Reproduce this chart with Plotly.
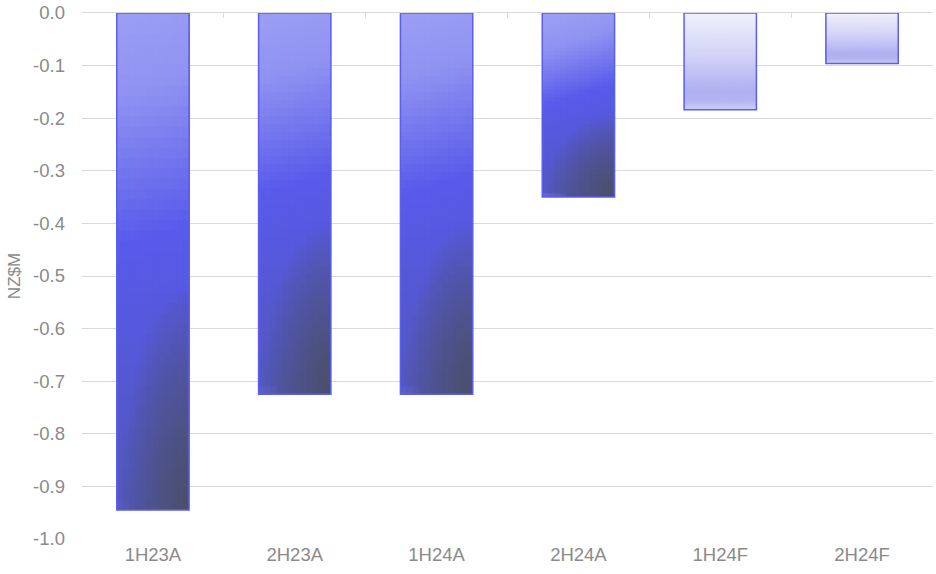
import numpy as np
import plotly.graph_objects as go

categories = ["1H23A", "2H23A", "1H24A", "2H24A", "1H24F", "2H24F"]
values = [-0.945, -0.725, -0.725, -0.35, -0.184, -0.096]
y_title = "NZ$M"
y_ticks = [0.0, -0.1, -0.2, -0.3, -0.4, -0.5, -0.6, -0.7, -0.8, -0.9, -1.0]

N_ROWS = 48
N_COLS = 12
BAR_W = 0.51
PLOT_H_PX = 526.0


def lerp(stops, t):
    pos = [s[0] for s in stops]
    cols = np.array([s[1] for s in stops], dtype=float)
    return np.array([np.interp(t, pos, cols[:, i]) for i in range(3)])


def actual_color(u, v, h_px):
    # slightly tilted linear gradient (higher on the right)
    s = v + (22.0 / h_px) * (u - 0.5)
    base = lerp([(0.0, (154, 157, 243)), (0.15, (143, 146, 241)),
                 (0.45, (88, 91, 234)), (0.6, (86, 89, 222)), (1.0, (82, 87, 185))], s)
    # darkening from bottom-right corner
    d = np.sqrt(((1 - u) / 0.95) ** 2 + ((1 - v) / 0.45) ** 2)
    t = np.clip(1 - d, 0, 1) ** 0.8
    dark = np.array([74, 79, 104])
    c = base * (1 - t) + dark * t
    # small highlight in the bottom-left corner
    dl = np.sqrt((u / 0.4) ** 2 + ((1 - v) * h_px / 6.0) ** 2)
    hgl = np.clip(1 - dl, 0, 1) * 0.6
    c = c * (1 - hgl) + np.array([120, 123, 246]) * hgl
    return c


def forecast_color(u, v, h_px):
    return lerp([(0.0, (240, 240, 253)), (0.45, (210, 210, 247)),
                 (0.8, (175, 176, 241)), (0.9, (178, 179, 241)), (1.0, (205, 205, 246))], v)


def rgb(c):
    return "rgb(%d,%d,%d)" % tuple(int(round(x)) for x in c)


is_forecast = [c.endswith("F") for c in categories]
vals = np.array(values)
heights_px = np.abs(vals) * PLOT_H_PX

fig = go.Figure()
cells = [(k, j) for k in range(N_ROWS) for j in range(N_COLS)]
cells.sort(key=lambda kj: -(kj[0] + kj[1]))
for k, j in cells:
    v = (k + 0.5) / N_ROWS
    u = (j + 0.5) / N_COLS
    colors = [rgb(forecast_color(u, v, h) if f else actual_color(u, v, h))
              for f, h in zip(is_forecast, heights_px)]
    fig.add_trace(go.Bar(
        x=categories,
        y=vals * (k + 1) / N_ROWS,
        base=0,
        width=BAR_W * (j + 1) / N_COLS,
        offset=-BAR_W / 2,
        marker=dict(color=colors, line=dict(width=0)),
        hoverinfo="skip",
        showlegend=False,
    ))

fig.add_trace(go.Bar(
    x=categories,
    y=values,
    width=BAR_W,
    marker=dict(color="rgba(0,0,0,0)", line=dict(color="#5b5ef0", width=1.5)),
    showlegend=False,
))

# top axis with category boundary ticks
fig.add_trace(go.Scatter(x=[0], y=[0], xaxis="x2", mode="markers",
                         marker=dict(opacity=0), hoverinfo="skip", showlegend=False))

grey = "#8a8a8a"
fig.update_layout(
    width=936, height=574,
    margin=dict(l=82, r=3, t=13, b=35),
    paper_bgcolor="white", plot_bgcolor="white",
    barmode="overlay",
    font=dict(family="Liberation Sans, Arial, sans-serif", color=grey, size=18),
    xaxis=dict(type="category", range=[-0.5, 5.5], showgrid=False, showline=False,
               ticks="", zeroline=False, ticklabelstandoff=2,
               tickfont=dict(size=18.5, color=grey)),
    xaxis2=dict(overlaying="x", anchor="y", side="top", range=[-0.5, 5.5],
                tickmode="array", tickvals=[i - 0.5 for i in range(len(categories) + 1)],
                ticks="inside", ticklen=5, tickcolor="#d9d9d9", tickwidth=1,
                showline=True, linecolor="#d9d9d9", linewidth=1,
                showticklabels=False, showgrid=False, zeroline=False),
    yaxis=dict(range=[-1.0, 0.0], tickmode="array", tickvals=y_ticks,
               ticktext=["%.1f" % t for t in y_ticks],
               gridcolor="#d9d9d9", gridwidth=1, zeroline=False, showline=False,
               ticks="", ticklabelstandoff=16, tickfont=dict(size=18.5, color=grey),
               title=dict(text=y_title, font=dict(size=17, color=grey), standoff=8)),
)

fig.write_html("out.html")
